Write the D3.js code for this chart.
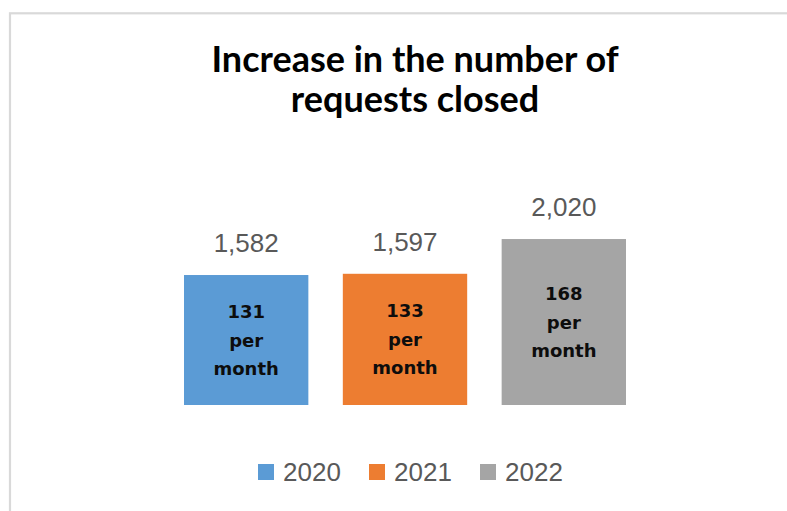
<!DOCTYPE html>
<html>
<head>
<meta charset="utf-8">
<script src="https://cdn.jsdelivr.net/npm/d3@7"></script>
<style>
  html, body { margin: 0; padding: 0; background: #fff; }
  svg { display: block; }
</style>
</head>
<body>
<svg id="chart" width="787" height="511"></svg>
<script>
// Requests closed per year
const years = ["2020", "2021", "2022"];
const totals = [1582, 1597, 2020];
const perMonth = [131, 133, 168];
const colors = ["#5B9BD5", "#ED7D31", "#A5A5A5"];
const titleLines = ["Increase in the number of", "requests closed"];

const svg = d3.select("#chart");

// Chart frame
svg.append("rect")
  .attr("x", 10).attr("y", 13.3)
  .attr("width", 900).attr("height", 600)
  .attr("fill", "#fff")
  .attr("stroke", "#d9d9d9")
  .attr("stroke-width", 2.2);

// Title
svg.append("text")
  .attr("x", 415).attr("y", 71.7)
  .attr("text-anchor", "middle")
  .style("font-family", "Lato, 'DejaVu Sans', sans-serif")
  .style("font-weight", "bold")
  .style("font-size", "36px")
  .attr("fill", "#000")
  .selectAll("tspan")
  .data(titleLines)
  .join("tspan")
  .attr("x", 415)
  .attr("dy", (d, i) => i === 0 ? 0 : 40)
  .text(d => d);

// Scales
const x = d3.scaleBand()
  .domain(years)
  .range([184, 626])
  .paddingInner(0.217)
  .paddingOuter(0);

const y = d3.scaleLinear()
  .domain([0, 2500])
  .range([405, 199.6]);

const color = d3.scaleOrdinal().domain(years).range(colors);

const data = years.map((yr, i) => ({ year: yr, total: totals[i], perMonth: perMonth[i] }));

// Bars
svg.append("g")
  .selectAll("rect")
  .data(data)
  .join("rect")
  .attr("x", d => x(d.year))
  .attr("y", d => y(d.total))
  .attr("width", x.bandwidth())
  .attr("height", d => y(0) - y(d.total))
  .attr("fill", d => color(d.year));

// Totals above the bars
svg.append("g")
  .selectAll("text")
  .data(data)
  .join("text")
  .attr("x", d => x(d.year) + x.bandwidth() / 2)
  .attr("y", d => y(d.total) - 23)
  .attr("text-anchor", "middle")
  .style("font-family", "'Liberation Sans', Arial, sans-serif")
  .style("font-size", "26px")
  .attr("fill", "#595959")
  .text(d => d3.format(",")(d.total));

// Monthly rate inside the bars
const inner = svg.append("g")
  .selectAll("text")
  .data(data)
  .join("text")
  .attr("text-anchor", "middle")
  .style("font-family", "'DejaVu Sans', sans-serif")
  .style("font-weight", "bold")
  .style("font-size", "18px")
  .attr("fill", "#0d0d0d");

inner.each(function (d) {
  const cx = x(d.year) + x.bandwidth() / 2;
  const cy = (y(d.total) + y(0)) / 2 + 6.5;
  const lines = [String(d.perMonth), "per", "month"];
  d3.select(this).selectAll("tspan")
    .data(lines)
    .join("tspan")
    .attr("x", cx)
    .attr("y", (l, i) => cy + (i - 1) * 28.5)
    .text(l => l);
});

// Legend
const legend = svg.append("g")
  .selectAll("g")
  .data(years)
  .join("g")
  .attr("transform", (d, i) => `translate(${258 + i * 111},0)`);

legend.append("rect")
  .attr("x", 0).attr("y", 464)
  .attr("width", 16).attr("height", 16)
  .attr("fill", d => color(d));

legend.append("text")
  .attr("x", 25).attr("y", 481)
  .style("font-family", "'Liberation Sans', Arial, sans-serif")
  .style("font-size", "26px")
  .attr("fill", "#595959")
  .text(d => d);
</script>
</body>
</html>
